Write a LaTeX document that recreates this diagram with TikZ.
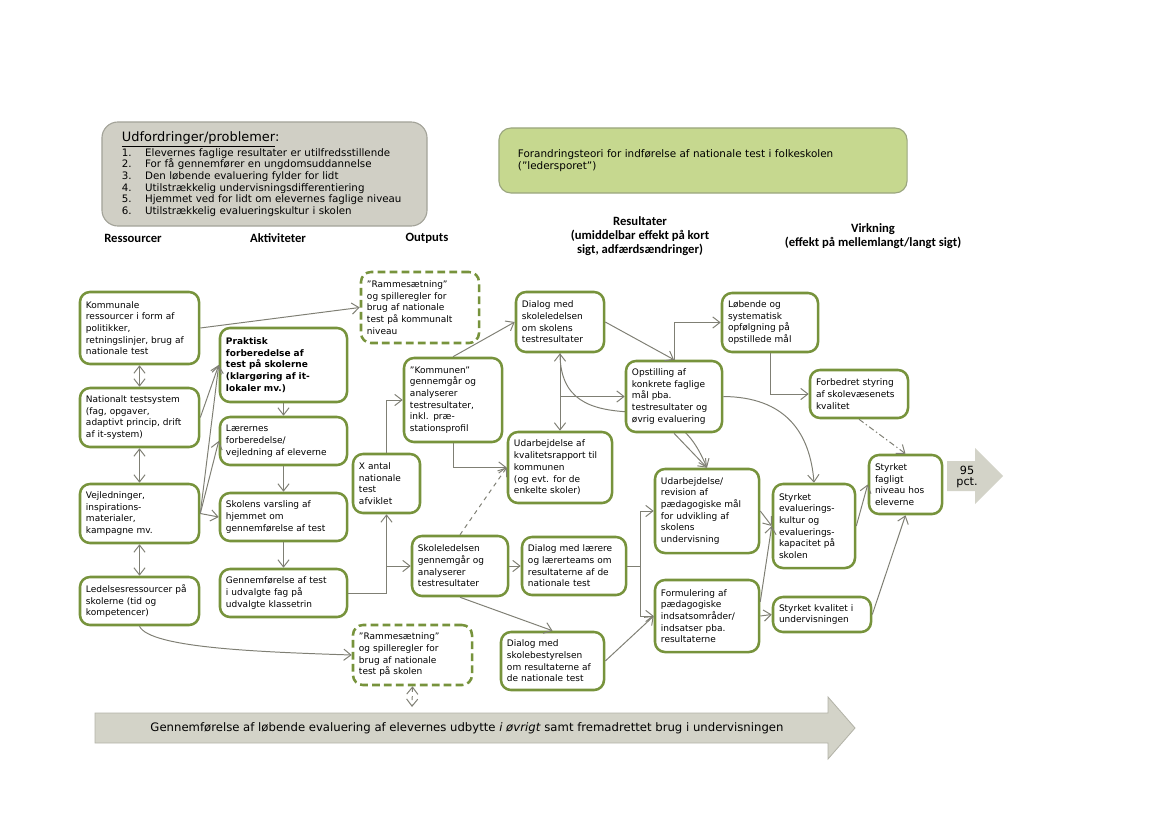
\documentclass[tikz,border=0pt]{standalone}
\usepackage{fontspec}
\setmainfont{DejaVu Sans}
\newfontfamily\headfont{Carlito}
\usetikzlibrary{arrows.meta,calc,backgrounds}

\definecolor{boxgreen}{HTML}{77933C}
\definecolor{conngray}{HTML}{7F7F74}
\definecolor{headfill}{HTML}{D0CFC5}
\definecolor{headline}{HTML}{A3A399}
\definecolor{greenfill}{HTML}{C6D88F}
\definecolor{greenline}{HTML}{9AA57E}
\definecolor{arrowfill}{HTML}{D3D3C8}
\definecolor{arrowline}{HTML}{B3B3A8}

\begin{document}
\begin{tikzpicture}[x=0.025cm, y=-0.025cm, >={Straight Barb[length=1.8mm,width=2.8mm]},
            box/.style={rectangle, draw=boxgreen, line width=1.8pt, rounded corners=0.25cm, fill=white, align=left, inner xsep=0.15cm, inner ysep=0pt, font=\fontsize{6.4}{8.3}\selectfont},
            dashbox/.style={box, dash pattern=on 5.5pt off 3pt},
            conn/.style={draw=conngray, line width=0.7pt, ->},
            colhead/.style={font=\headfont\bfseries\fontsize{9}{10}\selectfont, align=center}]

            \useasboundingbox (0,0) rectangle (1169,827);

            % Header boxes
            \node[rectangle, draw=headline, fill=headfill, line width=0.8pt, rounded corners=0.4cm, text width=7.125cm, inner xsep=0.5cm, minimum height=2.6cm, align=left, font=\fontsize{7.3}{8.3}\selectfont] (udfordring) at (264.5,174) {%
                {\fontsize{9.2}{10}\selectfont\underline{Udfordringer/problemer}:}\\
                \makebox[0.58cm][l]{1.}Elevernes faglige resultater er utilfredsstillende\\
                \makebox[0.58cm][l]{2.}For få gennemfører en ungdomsuddannelse\\
                \makebox[0.58cm][l]{3.}Den løbende evaluering fylder for lidt\\
                \makebox[0.58cm][l]{4.}Utilstrækkelig undervisningsdifferentiering\\
                \makebox[0.58cm][l]{5.}Hjemmet ved for lidt om elevernes faglige niveau\\
                \makebox[0.58cm][l]{6.}Utilstrækkelig evalueringskultur i skolen};
            \node[rectangle, draw=greenline, fill=greenfill, line width=0.8pt, rounded corners=0.3cm, text width=9.25cm, inner xsep=0.475cm, minimum height=1.625cm, align=left, font=\fontsize{7.4}{9}\selectfont] (teori) at (703,160.5) {Forandringsteori for indførelse af nationale test i folkeskolen\\(”ledersporet”)};

            % Column headings
            \node[colhead] (hres) at (133,238) {Ressourcer};
            \node[colhead] (hakt) at (278,238) {Aktiviteter};
            \node[colhead] (hout) at (427,238) {Outputs};
            \node[colhead] (hresult) at (640,236) {Resultater\\(umiddelbar effekt på kort\\sigt, adfærdsændringer)};
            \node[colhead] (hvirk) at (873,236) {Virkning\\(effekt på mellemlangt/langt sigt)};

            % Ressourcer
            \node[box, text width=2.675cm, minimum height=1.8cm] (kommunal) at (139.5,328) {Kommunale\\ressourcer i form af\\politikker,\\retningslinjer, brug af\\nationale test};
            \node[box, text width=2.675cm, minimum height=1.475cm] (testsystem) at (139.5,417.5) {Nationalt testsystem\\(fag, opgaver,\\adaptivt princip, drift\\af it-system)};
            \node[box, text width=2.675cm, minimum height=1.475cm] (vejledning) at (139.5,513.5) {Vejledninger,\\inspirations-\\materialer,\\kampagne mv.};
            \node[box, text width=2.675cm, minimum height=1.2cm] (ledelse) at (139.5,601) {Ledelsesressourcer på\\skolerne (tid og\\kompetencer)};

            % Aktiviteter
            \node[box, text width=2.875cm, minimum height=1.85cm, font=\fontsize{6.4}{8.3}\selectfont\bfseries] (praktisk) at (283.5,365) {Praktisk\\forberedelse af\\test på skolerne\\(klargøring af it-\\lokaler mv.)};
            \node[box, text width=2.875cm, minimum height=1.2cm] (laerernes) at (283.5,441) {Lærernes\\forberedelse/\\vejledning af eleverne};
            \node[box, text width=2.875cm, minimum height=1.2cm] (varsling) at (283.5,517) {Skolens varsling af\\hjemmet om\\gennemførelse af test};
            \node[box, text width=2.875cm, minimum height=1.2cm] (gennemfoer) at (283.5,593) {Gennemførelse af test\\i udvalgte fag på\\udvalgte klassetrin};

            % Outputs
            \node[dashbox, text width=2.65cm, minimum height=1.775cm] (ramme1) at (420,307.5) {”Rammesætning”\\og spilleregler for\\brug af nationale\\test på kommunalt\\niveau};
            \node[box, text width=2.15cm, minimum height=2.1cm] (kommunen) at (453,400) {”Kommunen”\\gennemgår og\\analyserer\\testresultater,\\inkl. præ-\\stationsprofil};
            \node[box, text width=1.375cm, minimum height=1.475cm] (antal) at (386.5,483.5) {X antal\\nationale\\test\\afviklet};
            \node[box, text width=2.1cm, minimum height=1.5cm] (skoleled) at (460,566) {Skoleledelsen\\gennemgår og\\analyserer\\testresultater};
            \node[dashbox, text width=2.675cm, minimum height=1.5cm] (ramme2) at (412.5,655) {”Rammesætning”\\og spilleregler for\\brug af nationale\\test på skolen};

            % Resultater
            \node[box, text width=1.9cm, minimum height=1.5cm] (dialog1) at (560,322) {Dialog med\\skoleledelsen\\om skolens\\testresultater};
            \node[box, text width=2.3cm, minimum height=1.775cm] (rapport) at (560,467.5) {Udarbejdelse af\\kvalitetsrapport til\\kommunen\\(og evt. for de\\enkelte skoler)};
            \node[box, text width=2.3cm, minimum height=1.45cm] (dialog2) at (574,566) {Dialog med lærere\\og lærerteams om\\resultaterne af de\\nationale test};
            \node[box, text width=2.275cm, minimum height=1.45cm] (dialog3) at (552.5,661) {Dialog med\\skolebestyrelsen\\om resultaterne af\\de nationale test};
            \node[box, text width=2.1cm, minimum height=1.775cm] (opstilling) at (674,396.5) {Opstilling af\\konkrete faglige\\mål pba.\\testresultater og\\øvrig evaluering};
            \node[box, text width=2.3cm, minimum height=2.1cm] (revision) at (707,511) {Udarbejdelse/\\revision af\\pædagogiske mål\\for udvikling af\\skolens\\undervisning};
            \node[box, text width=2.3cm, minimum height=1.8cm] (formulering) at (707,616) {Formulering af\\pædagogiske\\indsatsområder/\\indsatser pba.\\resultaterne};
            \node[box, text width=2.1cm, minimum height=1.475cm] (loebende) at (770,322.5) {Løbende og\\systematisk\\opfølgning på\\opstillede mål};

            % Virkning
            \node[box, text width=2.15cm, minimum height=1.2cm] (styring) at (859,394) {Forbedret styring\\af skolevæsenets\\kvalitet};
            \node[box, text width=1.75cm, minimum height=2.1cm] (evalkultur) at (814,526) {Styrket\\evaluerings-\\kultur og\\evaluerings-\\kapacitet på\\skolen};
            \node[box, text width=2.15cm, minimum height=0.875cm] (kvalitet) at (822,614.5) {Styrket kvalitet i\\undervisningen};
            \node[box, text width=1.525cm, minimum height=1.475cm] (fagligt) at (905.5,484.5) {Styrket\\fagligt\\niveau hos\\eleverne};

            % Big arrows
            \draw[fill=arrowfill, draw=none] (947,461) -- (975,461) -- (975,448) -- (1003,476) -- (975,504) -- (975,491) -- (947,491) -- cycle;
            \node[font=\fontsize{8}{8.5}\selectfont, align=center] (pct) at (967,477) {95\\pct.};
            \draw[fill=arrowfill, draw=arrowline, line width=0.6pt] (95,713) -- (828,713) -- (828,697) -- (855,728) -- (828,759) -- (828,743) -- (95,743) -- cycle;
            \node[font=\fontsize{8.3}{9}\selectfont] (evalpil) at (467,728) {Gennemførelse af løbende evaluering af elevernes udbytte \textit{i øvrigt} samt fremadrettet brug i undervisningen};

            % Split points
            \coordinate (split1) at (antal.south |- skoleled.west);
            \coordinate (split2) at (dialog1.south |- opstilling.west);
            \coordinate (split3) at (640,566);
            \coordinate (tail) at (412,707);

            % Edges
            \draw[conn, <->] (kommunal) -- (testsystem);
            \draw[conn, <->] (testsystem) -- (vejledning);
            \draw[conn, <->] (vejledning) -- (ledelse);
            \draw[conn] (kommunal.east) -- (ramme1.west);
            \draw[conn] (testsystem.east) -- (praktisk.west);
            \draw[conn] (vejledning.east) -- (praktisk.west);
            \draw[conn] (vejledning.east) -- (laerernes.west);
            \draw[conn] (vejledning.east) -- (varsling.west);
            \draw[conn] (ledelse.south) .. controls (150,648) and (260,652) .. (ramme2.west);
            \draw[conn] (praktisk) -- (laerernes);
            \draw[conn] (laerernes) -- (varsling);
            \draw[conn] (varsling) -- (gennemfoer);
            \draw[conn] (gennemfoer.east) -| (antal.south);
            \draw[conn] (split1) -- (skoleled.west);
            \draw[conn] (antal.north) |- (kommunen.west);
            \draw[conn] (kommunen.north) -- (dialog1.west);
            \draw[conn] (kommunen.south) |- (rapport.west);
            \draw[conn, dashed] (skoleled.north) -- (rapport.west);
            \draw[conn] (skoleled.east) -- (dialog2.west);
            \draw[conn] (skoleled.south) -- (dialog3.north);
            \draw[conn, dashed, <->] (ramme2.south) -- (tail);
            \draw[conn, <->] (dialog1) -- (rapport);
            \draw[conn] (split2) -- (opstilling.west);
            \begin{scope}[on background layer]
                \draw[conn] (dialog1.south) .. controls (560,400) and (590,410) .. (630,412) .. controls (680,414) and (695,440) .. (revision.north);
            \end{scope}
            \draw[conn] (dialog1.east) -- (opstilling.north);
            \draw[conn] (opstilling.north) |- (loebende.west);
            \draw[conn] (loebende.south) |- (styring.west);
            \draw[conn, dash pattern=on 4pt off 2pt on 1pt off 2pt] (styring.south) -- (fagligt.north);
            \draw[conn] (opstilling.south) -- (revision.north);
            \draw[conn] (opstilling.east) .. controls (785,397) and (810,432) .. (evalkultur.north);
            \draw[conn] (dialog2.east) -- (split3) |- (revision.west);
            \draw[conn] (split3) |- (formulering.west);
            \draw[conn] (dialog3.east) -- (formulering.west);
            \draw[conn] (revision.east) -- (evalkultur.west);
            \draw[conn] (formulering.15) -- (evalkultur.west);
            \draw[conn] (formulering.east) -- (kvalitet.west);
            \draw[conn] (evalkultur.east) -- (fagligt.west);
            \draw[conn] (kvalitet.east) -- (fagligt.south);
        \end{tikzpicture}
\end{document}
